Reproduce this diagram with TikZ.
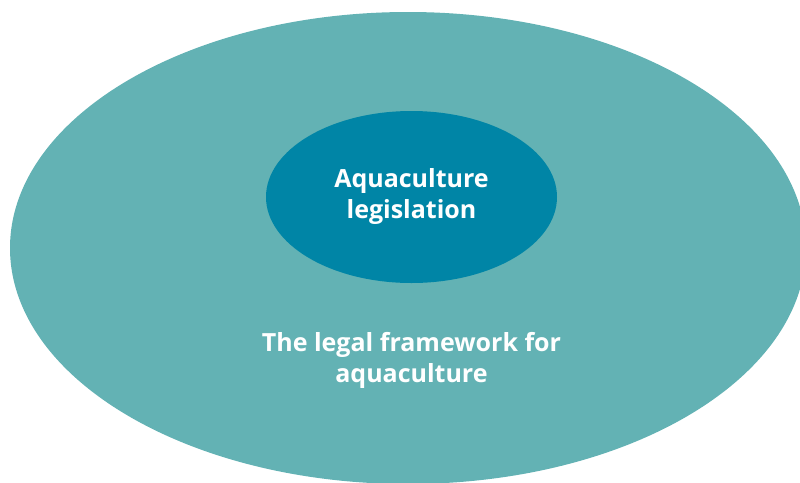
\documentclass[tikz,border=0pt]{standalone}
\usepackage{fontspec}
\setmainfont{Open Sans}
\usetikzlibrary{shapes.geometric,positioning}

\definecolor{outerteal}{HTML}{63B2B4}
\definecolor{innerteal}{HTML}{0085A6}

\begin{document}
\begin{tikzpicture}[x=1pt,y=-1pt]
	  \tikzstyle{every node}=[font=\bfseries\fontsize{25}{31}\selectfont,text=white,align=center]
	  \tikzstyle{zone}=[ellipse,inner sep=0pt]

	  \useasboundingbox (0,0) rectangle (800,482);

	  \node[zone, fill=outerteal, minimum width=796pt, minimum height=472pt] (F) at (408,248) {};
	  \node[zone, fill=innerteal, minimum width=291pt, minimum height=172pt] (L) at (411.5,197) {Aquaculture\\legislation};
	  \node (T) [below=132pt of L.center] {The legal framework for\\aquaculture};
	\end{tikzpicture}
\end{document}
